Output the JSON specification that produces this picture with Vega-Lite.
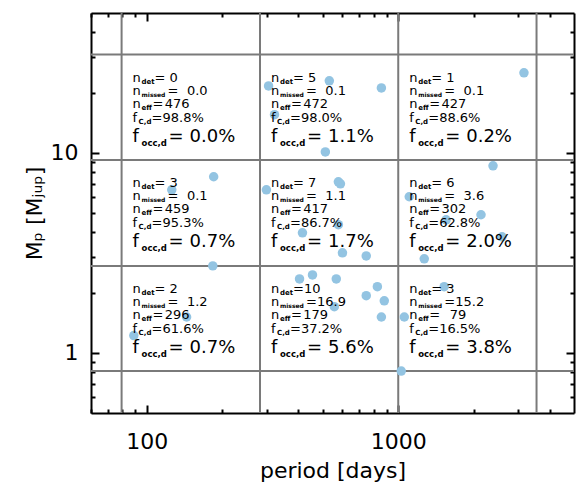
{
  "$schema": "https://vega.github.io/schema/vega-lite/v6.json",
  "width": 483,
  "height": 400,
  "autosize": "none",
  "padding": {"left": 91, "top": 13, "right": 2, "bottom": 73},
  "background": "white",
  "config": {
    "view": {"stroke": null},
    "font": "DejaVu Sans",
    "axis": {
      "grid": false,
      "labelFont": "DejaVu Sans",
      "labelFontSize": 22,
      "labelColor": "black",
      "titleFont": "DejaVu Sans",
      "titleFontSize": 22,
      "titleFontWeight": "normal",
      "titleColor": "black",
      "tickColor": "black",
      "tickWidth": 2,
      "domainColor": "black",
      "domainWidth": 2
    },
    "text": {"font": "DejaVu Sans", "color": "black", "align": "left", "baseline": "alphabetic"}
  },
  "datasets": {
    "pts": [
      {"period": 305, "mass": 21.6}, {"period": 532, "mass": 22.9}, {"period": 857, "mass": 21.1},
      {"period": 322, "mass": 15.5}, {"period": 513, "mass": 10.1},
      {"period": 3162, "mass": 25.1},
      {"period": 184.5, "mass": 7.59}, {"period": 125.7, "mass": 6.53}, {"period": 183, "mass": 2.72},
      {"period": 299, "mass": 6.53}, {"period": 578, "mass": 7.16}, {"period": 589, "mass": 7.0},
      {"period": 578, "mass": 4.37}, {"period": 416, "mass": 3.98}, {"period": 600, "mass": 3.16},
      {"period": 746, "mass": 3.05},
      {"period": 2382, "mass": 8.61}, {"period": 1106, "mass": 6.03}, {"period": 2134, "mass": 4.9},
      {"period": 1550, "mass": 4.62}, {"period": 2586, "mass": 3.8}, {"period": 1269, "mass": 2.95},
      {"period": 144, "mass": 1.51}, {"period": 88.8, "mass": 1.22},
      {"period": 405, "mass": 2.34}, {"period": 456, "mass": 2.45}, {"period": 567, "mass": 2.34},
      {"period": 826, "mass": 2.14}, {"period": 746, "mass": 1.93}, {"period": 880, "mass": 1.82},
      {"period": 557, "mass": 1.7}, {"period": 857, "mass": 1.51},
      {"period": 1057, "mass": 1.51}, {"period": 1523, "mass": 2.14}, {"period": 1028, "mass": 0.81}
    ],
    "gx": [{"p": 79.4}, {"p": 282}, {"p": 1000}, {"p": 3548}],
    "gy": [{"m": 0.81}, {"m": 2.72}, {"m": 9.2}, {"m": 31}],
    "cells": [
      {"p": 79.4, "m": 31, "d": "= 0", "mi": "0.0", "ef": "476", "fc": "=98.8%", "fo": "0.0%"},
      {"p": 282, "m": 31, "d": "= 5", "mi": "0.1", "ef": "472", "fc": "=98.0%", "fo": "1.1%"},
      {"p": 1000, "m": 31, "d": "= 1", "mi": "0.1", "ef": "427", "fc": "=88.6%", "fo": "0.2%"},
      {"p": 79.4, "m": 9.2, "d": "= 3", "mi": "0.1", "ef": "459", "fc": "=95.3%", "fo": "0.7%"},
      {"p": 282, "m": 9.2, "d": "= 7", "mi": "1.1", "ef": "417", "fc": "=86.7%", "fo": "1.7%"},
      {"p": 1000, "m": 9.2, "d": "= 6", "mi": "3.6", "ef": "302", "fc": "=62.8%", "fo": "2.0%"},
      {"p": 79.4, "m": 2.72, "d": "= 2", "mi": "1.2", "ef": "296", "fc": "=61.6%", "fo": "0.7%"},
      {"p": 282, "m": 2.72, "d": "=10", "mi": "16.9", "ef": "179", "fc": "=37.2%", "fo": "5.6%"},
      {"p": 1000, "m": 2.72, "d": "= 3", "mi": "15.2", "ef": "79", "fc": "=16.5%", "fo": "3.8%"}
    ]
  },
  "resolve": {"axis": {"x": "independent", "y": "independent"}},
  "layer": [
    {
      "data": {"name": "gx"},
      "mark": {"type": "rule", "color": "#7a7a7a", "strokeWidth": 2},
      "encoding": {
        "x": {"field": "p", "type": "quantitative",
              "scale": {"type": "log", "domain": [60, 5000], "nice": false},
              "axis": {"orient": "bottom", "values": [100, 1000], "format": "d", "tickSize": -8,
                       "labelPadding": 26, "title": "period  [days]", "titlePadding": 8, "labelFlush": false}}
      }
    },
    {
      "data": {"name": "gy"},
      "mark": {"type": "rule", "color": "#7a7a7a", "strokeWidth": 2},
      "encoding": {
        "y": {"field": "m", "type": "quantitative",
              "scale": {"type": "log", "domain": [0.5, 50], "nice": false},
              "axis": {"orient": "left", "values": [1, 10], "format": "d", "tickSize": -8,
                       "labelPadding": 21, "title": "Mₚ  [Mⱼᵤₚ]", "titlePadding": 4, "labelFlush": false}}
      }
    },
    {
      "data": {"name": "pts"},
      "mark": {"type": "point", "filled": true, "shape": "circle", "size": 90, "color": "#93c4e2", "opacity": 1},
      "encoding": {
        "x": {"field": "period", "type": "quantitative",
              "scale": {"type": "log", "domain": [60, 5000], "nice": false},
              "axis": {"orient": "bottom", "values": [60, 70, 80, 90, 200, 300, 400, 500, 600, 700, 800, 900, 2000, 3000, 4000],
                       "labels": false, "tickSize": -4, "domain": false, "title": null}},
        "y": {"field": "mass", "type": "quantitative",
              "scale": {"type": "log", "domain": [0.5, 50], "nice": false},
              "axis": {"orient": "left", "values": [0.6, 0.7, 0.8, 0.9, 2, 3, 4, 5, 6, 7, 8, 9, 20, 30, 40],
                       "labels": false, "tickSize": -4, "domain": false, "title": null}}
      }
    },
    {
      "data": {"name": "cells"},
      "mark": {"type": "text", "text": "n", "fontSize": 13, "dx": 11, "dy": 27},
      "encoding": {
        "x": {"field": "p", "type": "quantitative", "scale": {"type": "log", "domain": [60, 5000], "nice": false},
              "axis": {"orient": "top", "values": [100, 1000], "labels": false, "tickSize": -8, "title": null}},
        "y": {"field": "m", "type": "quantitative", "scale": {"type": "log", "domain": [0.5, 50], "nice": false},
              "axis": {"orient": "right", "values": [1, 10], "labels": false, "tickSize": -8, "title": null}}
      }
    },
    {
      "data": {"name": "cells"},
      "mark": {"type": "text", "text": "det", "fontSize": 7, "fontWeight": "bold", "dx": 20, "dy": 29},
      "encoding": {
        "x": {"field": "p", "type": "quantitative", "scale": {"type": "log", "domain": [60, 5000], "nice": false},
              "axis": {"orient": "top", "values": [60, 70, 80, 90, 200, 300, 400, 500, 600, 700, 800, 900, 2000, 3000, 4000],
                       "labels": false, "tickSize": -4, "domain": false, "title": null}},
        "y": {"field": "m", "type": "quantitative", "scale": {"type": "log", "domain": [0.5, 50], "nice": false},
              "axis": {"orient": "right", "values": [0.6, 0.7, 0.8, 0.9, 2, 3, 4, 5, 6, 7, 8, 9, 20, 30, 40],
                       "labels": false, "tickSize": -4, "domain": false, "title": null}}
      }
    },
    {
      "data": {"name": "cells"},
      "mark": {"type": "text", "fontSize": 13, "dx": 33, "dy": 27},
      "encoding": {
        "x": {"field": "p", "type": "quantitative", "axis": null},
        "y": {"field": "m", "type": "quantitative", "axis": null},
        "text": {"field": "d"}
      }
    },
    {
      "data": {"name": "cells"},
      "mark": {"type": "text", "text": "n", "fontSize": 13, "dx": 11, "dy": 40},
      "encoding": {
        "x": {"field": "p", "type": "quantitative", "axis": null},
        "y": {"field": "m", "type": "quantitative", "axis": null}
      }
    },
    {
      "data": {"name": "cells"},
      "mark": {"type": "text", "text": "missed", "fontSize": 6, "fontWeight": "bold", "dx": 20, "dy": 42},
      "encoding": {
        "x": {"field": "p", "type": "quantitative", "axis": null},
        "y": {"field": "m", "type": "quantitative", "axis": null}
      }
    },
    {
      "data": {"name": "cells"},
      "mark": {"type": "text", "text": "=", "fontSize": 13, "dx": 46, "dy": 40},
      "encoding": {
        "x": {"field": "p", "type": "quantitative", "axis": null},
        "y": {"field": "m", "type": "quantitative", "axis": null}
      }
    },
    {
      "data": {"name": "cells"},
      "mark": {"type": "text", "fontSize": 13, "align": "right", "dx": 86, "dy": 40},
      "encoding": {
        "x": {"field": "p", "type": "quantitative", "axis": null},
        "y": {"field": "m", "type": "quantitative", "axis": null},
        "text": {"field": "mi"}
      }
    },
    {
      "data": {"name": "cells"},
      "mark": {"type": "text", "text": "n", "fontSize": 13, "dx": 11, "dy": 53},
      "encoding": {
        "x": {"field": "p", "type": "quantitative", "axis": null},
        "y": {"field": "m", "type": "quantitative", "axis": null}
      }
    },
    {
      "data": {"name": "cells"},
      "mark": {"type": "text", "text": "eff", "fontSize": 7, "fontWeight": "bold", "dx": 20, "dy": 55},
      "encoding": {
        "x": {"field": "p", "type": "quantitative", "axis": null},
        "y": {"field": "m", "type": "quantitative", "axis": null}
      }
    },
    {
      "data": {"name": "cells"},
      "mark": {"type": "text", "text": "=", "fontSize": 13, "dx": 31, "dy": 53},
      "encoding": {
        "x": {"field": "p", "type": "quantitative", "axis": null},
        "y": {"field": "m", "type": "quantitative", "axis": null}
      }
    },
    {
      "data": {"name": "cells"},
      "mark": {"type": "text", "fontSize": 13, "align": "right", "dx": 68, "dy": 53},
      "encoding": {
        "x": {"field": "p", "type": "quantitative", "axis": null},
        "y": {"field": "m", "type": "quantitative", "axis": null},
        "text": {"field": "ef"}
      }
    },
    {
      "data": {"name": "cells"},
      "mark": {"type": "text", "text": "f", "fontSize": 13, "dx": 11, "dy": 67},
      "encoding": {
        "x": {"field": "p", "type": "quantitative", "axis": null},
        "y": {"field": "m", "type": "quantitative", "axis": null}
      }
    },
    {
      "data": {"name": "cells"},
      "mark": {"type": "text", "text": "C,d", "fontSize": 7, "fontWeight": "bold", "dx": 17, "dy": 69},
      "encoding": {
        "x": {"field": "p", "type": "quantitative", "axis": null},
        "y": {"field": "m", "type": "quantitative", "axis": null}
      }
    },
    {
      "data": {"name": "cells"},
      "mark": {"type": "text", "fontSize": 13, "dx": 30, "dy": 67},
      "encoding": {
        "x": {"field": "p", "type": "quantitative", "axis": null},
        "y": {"field": "m", "type": "quantitative", "axis": null},
        "text": {"field": "fc"}
      }
    },
    {
      "data": {"name": "cells"},
      "mark": {"type": "text", "text": "f", "fontSize": 18, "dx": 11, "dy": 87},
      "encoding": {
        "x": {"field": "p", "type": "quantitative", "axis": null},
        "y": {"field": "m", "type": "quantitative", "axis": null}
      }
    },
    {
      "data": {"name": "cells"},
      "mark": {"type": "text", "text": "occ,d", "fontSize": 8.5, "fontWeight": "bold", "dx": 20, "dy": 91},
      "encoding": {
        "x": {"field": "p", "type": "quantitative", "axis": null},
        "y": {"field": "m", "type": "quantitative", "axis": null}
      }
    },
    {
      "data": {"name": "cells"},
      "mark": {"type": "text", "text": "=", "fontSize": 18, "dx": 47, "dy": 87},
      "encoding": {
        "x": {"field": "p", "type": "quantitative", "axis": null},
        "y": {"field": "m", "type": "quantitative", "axis": null}
      }
    },
    {
      "data": {"name": "cells"},
      "mark": {"type": "text", "fontSize": 18, "dx": 68, "dy": 87},
      "encoding": {
        "x": {"field": "p", "type": "quantitative", "axis": null},
        "y": {"field": "m", "type": "quantitative", "axis": null},
        "text": {"field": "fo"}
      }
    }
  ]
}
